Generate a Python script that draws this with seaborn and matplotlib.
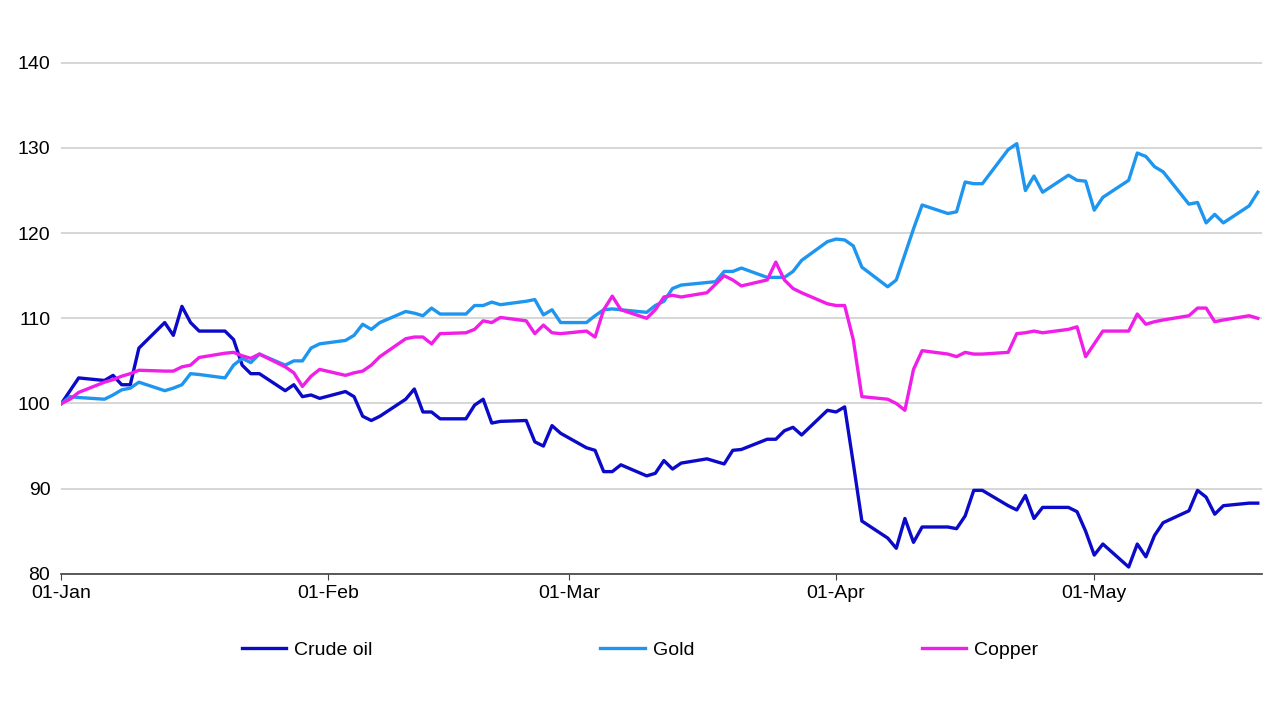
import matplotlib
matplotlib.use("Agg")
import matplotlib.pyplot as plt
import matplotlib.dates as mdates
import numpy as np
import pandas as pd
import seaborn as sns

dates = pd.bdate_range("2025-01-01", "2025-05-20")

crude_oil = [
    100, 101.5, 103, 102.7, 103.3, 102.2, 102.2, 106.5, 109.5, 108, 111.4, 109.5, 108.5,
    108.5, 107.5, 104.5, 103.5, 103.5, 101.5, 102.2, 100.8, 101, 100.6,
    101.4, 100.8, 98.5, 98, 98.5, 100.5, 101.7, 99, 99, 98.2, 98.2, 99.8, 100.5, 97.7,
    97.9, 98, 95.5, 95, 97.4, 96.5,
    94.8, 94.5, 92, 92, 92.8, 91.5, 91.8, 93.3, 92.3, 93, 93.5, 93.2, 92.9, 94.5, 94.6,
    95.8, 95.8, 96.8, 97.2, 96.3, 99.2,
    99, 99.6, 93, 86.2, 84.2, 83, 86.5, 83.7, 85.5, 85.5, 85.3, 86.8, 89.8, 89.8, 88,
    87.5, 89.2, 86.5, 87.8, 87.8, 87.3, 85,
    82.2, 83.5, 80.8, 83.5, 82, 84.5, 86, 87.4, 89.8, 89, 87, 88, 88.3, 88.3,
]
gold = [
    100, 100.8, 100.7, 100.5, 101, 101.6, 101.8, 102.5, 101.5, 101.8, 102.2, 103.5, 103.4,
    103, 104.5, 105.3, 104.8, 105.8, 104.5, 105, 105, 106.5, 107,
    107.4, 108, 109.3, 108.7, 109.5, 110.8, 110.6, 110.3, 111.2, 110.5, 110.5, 111.5,
    111.5, 111.9, 111.6, 112, 112.2, 110.4, 111, 109.5,
    109.5, 110.3, 111, 111.1, 111, 110.7, 111.5, 112, 113.5, 113.9, 114.2, 114.3, 115.5,
    115.5, 115.9, 114.8, 114.8, 114.8, 115.5, 116.8, 119,
    119.3, 119.2, 118.5, 116, 113.7, 114.5, 117.5, 120.5, 123.3, 122.3, 122.5, 126,
    125.8, 125.8, 129.8, 130.5, 125, 126.7, 124.8, 126.8, 126.2, 126.1,
    122.7, 124.2, 126.2, 129.4, 129, 127.8, 127.2, 123.4, 123.6, 121.2, 122.2, 121.2,
    123.2, 124.8,
]
copper = [
    100, 100.5, 101.3, 102.5, 102.8, 103.2, 103.5, 103.9, 103.8, 103.8, 104.3, 104.5,
    105.4, 105.9, 106, 105.6, 105.3, 105.8, 104.3, 103.6, 102, 103.2, 104,
    103.3, 103.6, 103.8, 104.5, 105.5, 107.6, 107.8, 107.8, 107, 108.2, 108.3, 108.7,
    109.7, 109.5, 110.1, 109.7, 108.2, 109.2, 108.3, 108.2,
    108.5, 107.8, 111, 112.6, 111, 110, 111, 112.5, 112.7, 112.5, 113, 114, 115, 114.5,
    113.8, 114.5, 116.6, 114.5, 113.5, 113, 111.7,
    111.5, 111.5, 107.5, 100.8, 100.5, 100, 99.2, 104, 106.2, 105.8, 105.5, 106, 105.8,
    105.8, 106, 108.2, 108.3, 108.5, 108.3, 108.7, 109, 105.5,
    107, 108.5, 108.5, 110.5, 109.3, 109.6, 109.8, 110.3, 111.2, 111.2, 109.6, 109.8,
    110.3, 110,
]

series = {"Crude oil": crude_oil, "Gold": gold, "Copper": copper}
colors = {"Crude oil": "#0a0ac8", "Gold": "#1e96f0", "Copper": "#f01ee6"}

df = pd.concat(
    [pd.DataFrame({"date": dates, "value": v, "series": k}) for k, v in series.items()]
)

plt.rcParams["font.family"] = "Liberation Sans"
fig = plt.figure(figsize=(12.8, 7.2), dpi=100)
ax = fig.add_axes([0.048, 0.203, 0.938, 0.769])

sns.lineplot(data=df, x="date", y="value", hue="series", palette=colors,
             linewidth=2.4, ax=ax, legend=False)

ax.set_ylim(80, 145)
ax.set_yticks(np.arange(80, 141, 10))
ax.set_xlim(dates[0], dates[-1] + pd.Timedelta(days=0.5))
ax.xaxis.set_major_locator(mdates.MonthLocator())
ax.xaxis.set_major_formatter(mdates.DateFormatter("%d-%b"))
ax.grid(axis="y", color="#d0d0d0", linewidth=1.2)
ax.set_axisbelow(True)
for s in ["top", "right", "left"]:
    ax.spines[s].set_visible(False)
ax.spines["bottom"].set_color("#404040")
ax.spines["bottom"].set_linewidth(1.2)
ax.tick_params(axis="y", length=0, labelsize=14, pad=8)
ax.tick_params(axis="x", length=4, direction="out", labelsize=14, pad=4, color="#404040")
ax.set_xlabel("")
ax.set_ylabel("")

handles = [plt.Line2D([], [], color=colors[k], linewidth=2.4) for k in series]
fig.legend(handles, list(series), loc="center", bbox_to_anchor=(0.5, 0.097), ncol=3,
           frameon=False, fontsize=14, handlelength=2.3, handletextpad=0.4,
           columnspacing=11.7)

fig.savefig("out.png", dpi=100)
